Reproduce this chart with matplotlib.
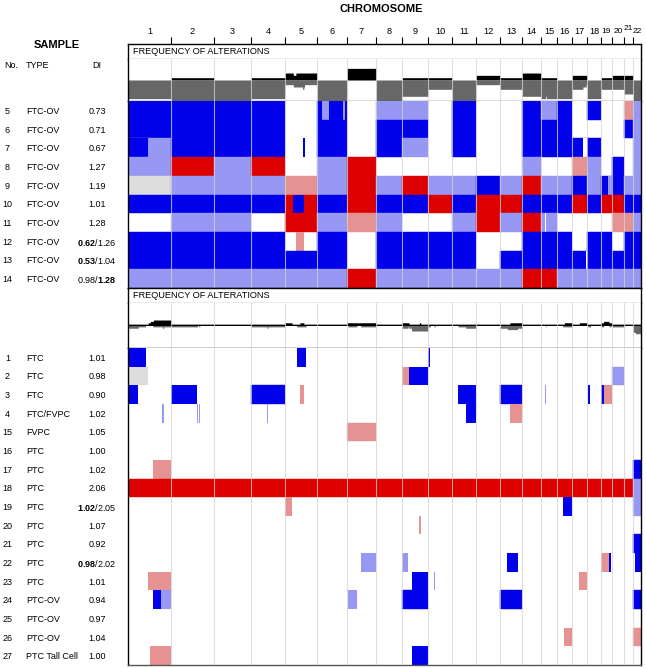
import numpy as np
import matplotlib.pyplot as plt
from matplotlib.transforms import blended_transform_factory

plt.rcParams['font.family'] = ['Liberation Sans', 'DejaVu Sans']
plt.rcParams['mathtext.fontset'] = 'custom'
plt.rcParams['mathtext.rm'] = 'Liberation Sans'
plt.rcParams['mathtext.bf'] = 'Liberation Sans:bold'

W, H = 646, 668

chroms = [str(i) for i in range(1, 23)]
# relative chromosome lengths as drawn
chrom_size = [43, 43, 37, 34, 32, 30, 29, 26, 26, 24, 24, 24, 22, 19, 16, 15, 15, 14, 11, 12, 9, 8]

# codes: L loss, l light-blue loss, G gain, g low gain, n no call, . normal
ov_no = ['5', '6', '7', '8', '9', '10', '11', '12', '13', '14']
ov_type = ['FTC-OV'] * 10
ov_di = [('0.73', ''), ('0.71', ''), ('0.67', ''), ('1.27', ''), ('1.19', ''),
         ('1.01', ''), ('1.28', ''), ('0.62/1.26', '0.62'), ('0.53/1.04', '0.53'),
         ('0.98/1.28', '1.28')]
ov_whole = ['LLLL.L.ll.L..LlL.L..gl',
            'LLLL.L.LL.L..LLL....Ll',
            'lLLL.L.Ll.L..LLLLL...l',
            'lGlG.lG......l..gl.L.l',
            'nlllglGlGllLlGllLlLLll',
            'LLLLGLGLLGLGGLLLGLGGLL',
            '.ll.Glgl..lGlGl....ggl',
            'LLLL.L.LLLL..LLL.LL.LL',
            'LLLLLL.LLLL.LLLLLLLLLL',
            'llllllGllllllGGlllllll']
ov_parts = [[(6, 0.17, 0.4, 'l'), (6, 0.88, 0.92, 'l')],
            [],
            [(1, 0, 0.47, 'L'), (5, 0.55, 0.61, 'L'), (17, 0.73, 1, '.')],
            [],
            [(19, 0.65, 1, 'l')],
            [(5, 0.26, 0.59, 'L')],
            [(15, 0.28, 0.33, '.')],
            [(5, 0.34, 0.59, 'g'), (8, 0.56, 0.58, 'l')],
            [(17, 0.95, 1, '.')],
            []]

pt_no = ['1', '2', '3', '4', '15', '16', '17', '18', '19', '20', '21', '22',
         '23', '24', '25', '26', '27']
pt_type = ['FTC', 'FTC', 'FTC', 'FTC/FVPC', 'FVPC', 'PTC', 'PTC', 'PTC', 'PTC',
           'PTC', 'PTC', 'PTC', 'PTC', 'PTC-OV', 'PTC-OV', 'PTC-OV', 'PTC Tall Cell']
pt_di = [('1.01', ''), ('0.98', ''), ('0.90', ''), ('1.02', ''), ('1.05', ''),
         ('1.00', ''), ('1.02', ''), ('2.06', ''), ('1.02/2.05', '1.02'), ('1.07', ''),
         ('0.92', ''), ('0.98/2.02', '0.98'), ('1.01', ''), ('0.94', ''), ('0.97', ''),
         ('1.04', ''), ('1.00', '')]
pt_whole = ['......................',
            '...................l..',
            '...L........L.........',
            '......................',
            '......g...............',
            '......................',
            '.....................L',
            'GGGGGGGGGGGGGGGGGGGGGl',
            '.....................l',
            '......................',
            '.....................L',
            '......................',
            '......................',
            '........L...L........L',
            '......................',
            '.....................g',
            '......................']
pt_parts = [[(1, 0, 0.41, 'L'), (5, 0.36, 0.66, 'L'), (10, 0, 0.1, 'L')],
            [(1, 0, 0.47, 'n'), (9, 0, 0.27, 'g'), (9, 0.27, 1, 'L')],
            [(1, 0, 0.24, 'L'), (2, 0, 0.6, 'L'), (5, 0.47, 0.59, 'g'), (11, 0.25, 1, 'L'),
             (15, 0.28, 0.32, 'l'), (18, 0.05, 0.25, 'L'), (19, 0, 0.24, 'L'), (19, 0.24, 1, 'g')],
            [(1, 0.8, 0.83, 'l'), (2, 0.6, 0.62, 'l'), (2, 0.65, 0.67, 'l'), (4, 0.47, 0.5, 'l'),
             (11, 0.57, 1, 'L'), (13, 0.45, 1, 'g')],
            [],
            [],
            [(1, 0.59, 1, 'g')],
            [],
            [(5, 0, 0.22, 'g'), (16, 0.38, 0.98, 'L')],
            [(9, 0.67, 0.72, 'g')],
            [],
            [(7, 0.47, 1, 'l'), (9, 0, 0.23, 'l'), (13, 0.33, 0.8, 'L'), (19, 0, 0.73, 'g'),
             (19, 0.73, 0.9, 'L'), (22, 0.3, 1, 'L')],
            [(1, 0.47, 1, 'g'), (9, 0.37, 1, 'L'), (10, 0.25, 0.3, 'l'), (17, 0.49, 1, 'g')],
            [(1, 0.58, 0.77, 'L'), (1, 0.77, 1, 'l'), (7, 0.03, 0.34, 'l')],
            [],
            [(16, 0.49, 1, 'g')],
            [(1, 0.52, 1, 'g'), (9, 0.37, 1, 'L')]]

colors = {'L': '#0000ea', 'l': '#9797f4', 'G': '#dc0000', 'g': '#e69292',
          'n': '#dcdcdc', '.': 'white'}

sizes = np.array(chrom_size, dtype=float)
ends = np.cumsum(sizes)
starts = ends - sizes
total = ends[-1]

step = 0.1
grid = np.arange(0, total, step) + step / 2
gidx = np.searchsorted(ends, grid, side='right')
gfrac = (grid - starts[gidx]) / sizes[gidx]


def row_states(whole, parts):
    s = np.array(list(whole))[gidx]
    for c, f0, f1, code in parts:
        m = (gidx == c - 1) & (gfrac >= f0) & (gfrac < f1)
        s[m] = code
    return s


def freq(whole_rows, part_rows):
    st = np.array([row_states(w, p) for w, p in zip(whole_rows, part_rows)])
    gain = np.isin(st, ['G', 'g']).mean(axis=0)
    loss = np.isin(st, ['L', 'l']).mean(axis=0)
    return gain, loss


fig = plt.figure(figsize=(W / 100, H / 100), dpi=100)
L, R = 128, 641


def px_axes(y0, y1):
    ax = fig.add_axes([L / W, 1 - y1 / H, (R - L) / W, (y1 - y0) / H])
    ax.set_xlim(0, total)
    ax.set_xticks([])
    ax.set_yticks([])
    for sp in ax.spines.values():
        sp.set_linewidth(1.0)
        sp.set_color('black')
    return ax


def separators(ax):
    for b in ends[:-1]:
        ax.axvline(b, color='#d4d4d4', lw=0.8, alpha=0.75, zorder=3)


def draw_head(ax):
    ax.spines['bottom'].set_color('#9a9a9a')
    ax.text(0.01, 0.5, 'FREQUENCY OF ALTERATIONS', transform=ax.transAxes,
            fontsize=6.6, va='center', ha='left')


def draw_freq(ax, whole_rows, part_rows, half_px):
    gain, loss = freq(whole_rows, part_rows)
    ax.fill_between(grid, 0, gain, step='mid', color='black', lw=0)
    ax.fill_between(grid, 0, -loss, step='mid', color='#676767', lw=0)
    lim = half_px / 23.3
    ax.set_ylim(-lim, lim)
    ax.spines['top'].set_visible(False)
    separators(ax)


def di_label(txt, bold):
    if bold == '':
        return txt
    a, b = txt.split('/')
    if bold == a:
        return r'$\mathbf{' + a + '}$/' + b
    return a + r'/$\mathbf{' + b + '}$'


def draw_heat(ax, whole_rows, part_rows, no, typ, di):
    for r, row in enumerate(whole_rows):
        for c, code in enumerate(row):
            if code != '.':
                ax.barh(r, sizes[c], left=starts[c], height=1.0, color=colors[code],
                        edgecolor=colors[code], lw=0.3)
        for c, f0, f1, code in part_rows[r]:
            ax.barh(r, (f1 - f0) * sizes[c - 1], left=starts[c - 1] + f0 * sizes[c - 1],
                    height=1.0, color=colors[code], lw=0)
    ax.set_ylim(len(whole_rows) - 0.5, -0.5)
    ax.spines['top'].set_visible(False)
    separators(ax)
    tr = blended_transform_factory(fig.transFigure, ax.transData)
    for r in range(len(whole_rows)):
        kw = dict(transform=tr, va='center_baseline', fontsize=6.5)
        ax.text(7.5 / W, r, no[r], ha='center', **kw)
        ax.text(26 / W, r, typ[r], ha='left', **kw)
        ax.text(97 / W, r, di_label(*di[r]), ha='center', **kw)


# panel 1
h1 = px_axes(44, 59)
draw_head(h1)
h1.xaxis.tick_top()
h1.set_xticks(ends[:-1])
h1.tick_params(axis='x', which='major', length=5, width=0.8, direction='out', labeltop=False)
lab_tr = blended_transform_factory(h1.transData, fig.transFigure)
for i, name in enumerate(chroms):
    dy = 3.5 if name == '21' else 0
    fs = 6.0 if i >= 18 else 6.6
    h1.text((starts[i] + ends[i]) / 2, 1 - (31.5 - dy) / H, name, fontsize=fs,
            ha='center', va='center', transform=lab_tr)

f1 = px_axes(59, 101)
draw_freq(f1, ov_whole, ov_parts, 21)
f1.spines['bottom'].set_color('#4a4a4a')

a1 = px_axes(101, 288)
draw_heat(a1, ov_whole, ov_parts, ov_no, ov_type, ov_di)

# panel 2
h2 = px_axes(288, 303)
draw_head(h2)
f2 = px_axes(303, 348)
draw_freq(f2, pt_whole, pt_parts, 22.5)
a2 = px_axes(348, 665)
draw_heat(a2, pt_whole, pt_parts, pt_no, pt_type, pt_di)
a2.spines['bottom'].set_color('#555555')

fig.text(381 / W, 1 - 8.5 / H, 'CHROMOSOME', fontsize=8, weight='bold', ha='center', va='center')
fig.text(57 / W, 1 - 44.5 / H, 'SAMPLE', fontsize=8, weight='bold', ha='center', va='center')
fig.text(4 / W, 1 - 66 / H, 'No.', fontsize=6.5, ha='left', va='center')
fig.text(26 / W, 1 - 66 / H, 'TYPE', fontsize=6.5, ha='left', va='center')
fig.text(97 / W, 1 - 66 / H, 'DI', fontsize=6.5, ha='center', va='center')

fig.savefig('out.png', dpi=100)
